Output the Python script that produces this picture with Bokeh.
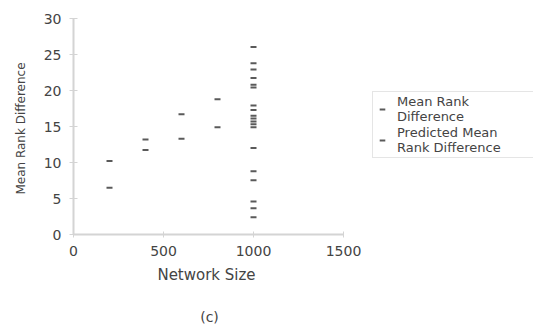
import math
from bokeh.plotting import figure
from bokeh.models import Range1d, FixedTicker, Legend, LegendItem, Label
from bokeh.embed import file_html
from bokeh.resources import INLINE

# Measured mean rank difference per network size
mean_sizes = [200, 400, 600, 800,
              1000, 1000, 1000, 1000, 1000, 1000, 1000, 1000, 1000,
              1000, 1000, 1000, 1000, 1000, 1000, 1000, 1000, 1000]
mean_values = [6.5, 11.75, 13.3, 14.9,
               26.05, 23.8, 22.9, 21.75, 20.4, 17.9, 17.3, 16.5, 16.1,
               15.7, 15.3, 14.9, 12.0, 8.8, 7.55, 4.6, 3.65, 2.4]

# Predicted mean rank difference per network size
pred_sizes = [200, 400, 600, 800, 1000]
pred_values = [10.2, 13.2, 16.7, 18.8, 20.8]

x_ticks = [0, 500, 1000, 1500]
y_ticks = [0, 5, 10, 15, 20, 25, 30]

FONT = "DejaVu Sans"
TEXT = "#444444"
AXIS = "#d4d4d4"
MARK = "#5a5a5a"

W, H = 533, 324
# Canvas-wide frame; axes are pinned at zero and bounded to the data extent,
# leaving room for the legend on the right and the captions underneath.
p = figure(width=W, height=H, output_backend="svg", toolbar_location=None,
           x_range=Range1d(-405.6, 2555.6), y_range=Range1d(-12.5, 32.5),
           min_border=0)
p.outline_line_color = None
p.grid.visible = False

r1 = p.scatter(mean_sizes, mean_values, marker="dash", size=6,
               line_color=MARK, line_width=2)
r2 = p.scatter(pred_sizes, pred_values, marker="dash", size=6,
               line_color=MARK, line_width=2)

for ax in (p.xaxis[0], p.yaxis[0]):
    ax.fixed_location = 0
    ax.axis_line_color = AXIS
    ax.axis_line_width = 2
    ax.major_tick_line_color = AXIS
    ax.major_tick_line_width = 1
    ax.minor_tick_line_color = None
    ax.major_label_text_font = FONT
    ax.major_label_text_color = TEXT
    ax.major_label_text_font_size = "14px"
    ax.major_label_standoff = 8

xa = p.xaxis[0]
xa.bounds = (0, 1500)
xa.ticker = FixedTicker(ticks=x_ticks)
xa.major_tick_in = 3
xa.major_tick_out = 3

ya = p.yaxis[0]
ya.bounds = (0, 30)
ya.ticker = FixedTicker(ticks=y_ticks)
ya.major_tick_in = 4
ya.major_tick_out = 4

def caption(text, sx, sy, size, angle=0.0):
    p.add_layout(Label(x=sx, y=H - sy, x_units="screen", y_units="screen",
                       text=text, angle=angle, text_align="center",
                       text_baseline="middle", text_font=FONT,
                       text_font_size=size, text_color=TEXT))

caption("Network Size", 206, 274, "15px")
caption("Mean Rank Difference", 20, 128, "12px", angle=math.pi / 2)
caption("(c)", 209, 316, "14px")

legend = Legend(
    items=[LegendItem(label="Mean Rank\nDifference", renderers=[r1]),
           LegendItem(label="Predicted Mean\nRank Difference", renderers=[r2])],
    location=(372, H - 158),
    padding=2, spacing=1, margin=0,
    glyph_width=14, glyph_height=14, label_standoff=8, label_width=140,
    label_text_font=FONT, label_text_font_size="13px",
    label_text_color=TEXT, label_text_line_height=0.9,
    border_line_color="#cccccc", border_line_width=1,
    background_fill_color="white", background_fill_alpha=1.0,
)
p.add_layout(legend)

open("out.html", "w").write(file_html(p, INLINE))
